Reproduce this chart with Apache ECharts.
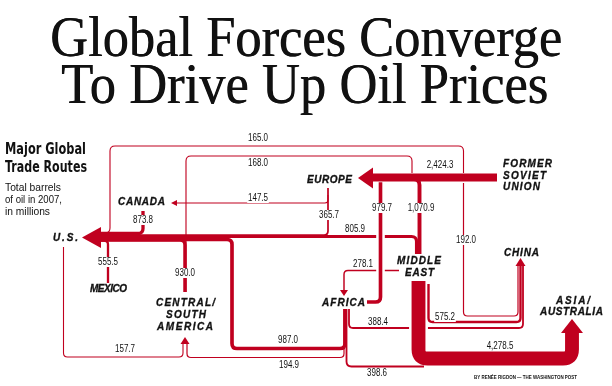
<!DOCTYPE html>
<html><head><meta charset="utf-8">
<script src="https://cdn.jsdelivr.net/npm/echarts@6/dist/echarts.min.js"></script>
<style>html,body{margin:0;padding:0;background:#fff}#c{width:612px;height:386px}</style>
</head><body><div id="c"></div>
<script>
// ---------------- DATA ----------------
const regions = ['U.S.', 'CANADA', 'MEXICO', 'CENTRAL/\nSOUTH\nAMERICA', 'EUROPE',
  'FORMER\nSOVIET\nUNION', 'MIDDLE\nEAST', 'AFRICA', 'CHINA', 'ASIA/\nAUSTRALIA'];
// flows (millions of barrels, 2007)
const flowFrom = ['FORMER SOVIET UNION', 'MIDDLE EAST', 'AFRICA', 'MIDDLE EAST', 'EUROPE',
  'EUROPE', 'CANADA', 'MEXICO', 'CENTRAL/SOUTH AMERICA', 'AFRICA',
  'FORMER SOVIET UNION', 'FORMER SOVIET UNION', 'U.S.', 'AFRICA', 'MIDDLE EAST',
  'FORMER SOVIET UNION', 'MIDDLE EAST', 'AFRICA', 'MIDDLE EAST', 'AFRICA'];
const flowTo = ['EUROPE', 'EUROPE', 'EUROPE', 'U.S.', 'U.S.',
  'CANADA', 'U.S.', 'U.S.', 'U.S.', 'U.S.',
  'U.S.', 'CENTRAL/SOUTH AMERICA', 'CENTRAL/SOUTH AMERICA', 'CENTRAL/SOUTH AMERICA', 'AFRICA',
  'CHINA', 'CHINA', 'CHINA', 'ASIA/AUSTRALIA', 'ASIA/AUSTRALIA'];
const flowVolume = [2424.3, 1070.9, 979.7, 805.9, 365.7,
  147.5, 873.8, 555.5, 930.0, 987.0,
  165.0, 168.0, 157.7, 194.9, 278.1,
  192.0, 575.2, 388.4, 4278.5, 398.6];

// ---------------- LAYOUT (routes, label spots; not data) ----------------
const RED = '#c0001f';
const routes = {
  0: {pts: [[497,177.5],[372,177.5]], r: 0, lab: [440,165], arrow: [[358,178],[373,167.5],[373,188.5]]},
  1: {pts: [[419.5,254],[419.5,179],[380,179]], r: 6, lab: [421,208]},
  2: {pts: [[367,302],[380.5,302],[380.5,182.2]], r: 5, lab: [382,208], halo: true},
  3: {pts: [[416.5,254],[416.5,236.5],[99,236.5]], r: 5, lab: [355,229], arrow: [[82,237.5],[101,227],[101,248]]},
  4: {pts: [[328,188],[328,235],[99,235]], r: 4, lab: [329,215]},
  5: {pts: [[328,195],[328,203],[177,203]], r: 3, lab: [258,198], arrow: [[171,203],[177,200],[177,206]]},
  6: {pts: [[143,211],[143,233.5],[99,233.5]], r: 5, lab: [143,220]},
  7: {pts: [[108,283],[108,240.5],[99,240.5]], r: 4, lab: [108,262]},
  8: {pts: [[185,292],[185,240],[99,240]], r: 5, lab: [185,273]},
  9: {pts: [[345,309],[345,348.5],[232,348.5],[232,239.5],[99,239.5]], r: 5, lab: [288,340]},
  10: {pts: [[463.5,173],[463.5,146],[110,146],[110,233],[99,233]], r: 5, lab: [258,138]},
  11: {pts: [[412,173],[412,156],[186,156],[186,292]], r: 5, lab: [258,163]},
  12: {pts: [[63.5,247],[63.5,357],[183,357],[183,344]], r: 4, lab: [125,349]},
  13: {pts: [[344,309],[344,357.5],[187,357.5],[187,344]], r: 4, lab: [289,365], arrow: [[185,337],[180.5,344],[189.5,344]]},
  14: {pts: [[399,270.5],[344,270.5],[344,290]], r: 4, lab: [363,264], arrow: [[344,296],[340,290],[348,290]]},
  15: {pts: [[463.5,183],[463.5,316],[518,316],[518,266]], r: 4, lab: [466,240]},
  16: {pts: [[428.5,284],[428.5,322],[520.5,322],[520.5,266]], r: 4, lab: [445,317], arrow: [[520.5,258],[515.5,266],[525.5,266]]},
  17: {pts: [[349,309],[349,328],[523,328],[523,266]], r: 4, lab: [378,322]},
  18: {pts: [[418.5,281],[418.5,358.5],[572,358.5],[572,333]], r: 9, lab: [500,346], halo: true, arrow: [[572,319],[561,333],[583,333]]},
  19: {pts: [[346.5,309],[346.5,366.5],[424,366.5]], r: 5, lab: [377,373]}
};
const drawOrder = [10, 11, 12, 13, 15, 17, 14, 5, 4, 3, 6, 7, 8, 9, 1, 0, 2, 18, 16, 19];
const regionLines = [
  [{l:53,r:78,y:238}],
  [{l:118,r:165,y:202}],
  [{l:90,r:127,y:289}],
  [{l:156,r:215,y:303},{l:166,r:206,y:315},{l:157,r:213,y:327}],
  [{l:307,r:352,y:180}],
  [{l:503,r:552,y:164},{l:503,r:546,y:176},{l:503,r:540,y:187}],
  [{l:397,r:441,y:261},{l:405,r:434,y:273}],
  [{l:322,r:365,y:303}],
  [{l:504,r:539,y:253}],
  [{l:556,r:590,y:301},{l:540,r:603,y:312}]
];

// ---------------- helpers ----------------
const mctx = document.createElement('canvas').getContext('2d');
function fontStr(f) { return (f.fontStyle || 'normal') + ' ' + (f.fontWeight || 'normal') + ' ' + f.fontSize + 'px ' + f.fontFamily; }
function tw(text, f) { mctx.font = fontStr(f); return mctx.measureText(text).width; }
function lineWidth(v) { return 0.6 + 0.0031 * v; }
function fmt(v) { return v.toLocaleString('en-US', {minimumFractionDigits: 1, maximumFractionDigits: 1}); }
function roundPath(pts, r) {
  let d = 'M' + pts[0][0] + ' ' + pts[0][1];
  for (let i = 1; i < pts.length - 1; i++) {
    const [x0, y0] = pts[i - 1], [x1, y1] = pts[i], [x2, y2] = pts[i + 1];
    const l1 = Math.hypot(x1 - x0, y1 - y0), l2 = Math.hypot(x2 - x1, y2 - y1);
    const rr = Math.min(r, l1 / 2, l2 / 2);
    const ax = x1 + (x0 - x1) / l1 * rr, ay = y1 + (y0 - y1) / l1 * rr;
    const bx = x1 + (x2 - x1) / l2 * rr, by = y1 + (y2 - y1) / l2 * rr;
    d += ' L' + ax + ' ' + ay + ' Q' + x1 + ' ' + y1 + ' ' + bx + ' ' + by;
  }
  const p = pts[pts.length - 1];
  d += ' L' + p[0] + ' ' + p[1];
  return d;
}
function fitText(text, f, left, right, cy) {
  const w = tw(text, f);
  const st = Object.assign({text: text, fill: '#111', align: 'left', verticalAlign: 'middle'}, f);
  return {type: 'text', x: left, y: cy, scaleX: (right - left) / w, z: 10, style: st};
}

function renderFlow(params, api) {
  const i = api.value(0);
  const L = routes[i];
  const w = lineWidth(flowVolume[i]);
  const pts = L.pts.map(p => api.coord(p));
  const d = roundPath(pts, L.r);
  const ch = [];
  if (L.halo) ch.push({type: 'path', shape: {pathData: d},
    style: {fill: 'none', stroke: '#fff', lineWidth: w + 5, lineCap: 'butt', lineJoin: 'round'}});
  ch.push({type: 'path', shape: {pathData: d},
    style: {fill: 'none', stroke: RED, lineWidth: w, lineCap: 'butt', lineJoin: 'round'}});
  if (L.arrow) ch.push({type: 'polygon', shape: {points: L.arrow.map(p => api.coord(p))}, style: {fill: RED}});
  return {type: 'group', children: ch};
}
const NUMFONT = {fontFamily: '"Liberation Sans", Arial, sans-serif', fontSize: 10};
function renderLabel(params, api) {
  const i = api.value(0);
  const c = api.coord(routes[i].lab);
  return {type: 'text', x: c[0], y: c[1], scaleX: 0.8,
    style: Object.assign({text: fmt(flowVolume[i]), fill: '#111', align: 'center', verticalAlign: 'middle',
      backgroundColor: '#fff', padding: [0, 1], lineHeight: 10}, NUMFONT)};
}
const REGFONT = {fontFamily: '"Liberation Sans", Arial, sans-serif', fontSize: 10, fontWeight: 'bold', fontStyle: 'italic'};
function renderRegion(params, api) {
  const i = api.value(0);
  const lines = regions[i].split('\n');
  const ch = [];
  lines.forEach((txt, k) => {
    const g = regionLines[i][k];
    const a = api.coord([g.l, g.y]), b = api.coord([g.r, g.y]);
    const chars = txt.split('');
    const widths = chars.map(c => tw(c, REGFONT));
    const total = widths.reduce((s, x) => s + x, 0);
    const sp = chars.length > 1 ? ((b[0] - a[0]) - total) / (chars.length - 1) : 0;
    let x = a[0];
    chars.forEach((c, j) => {
      ch.push({type: 'text', x: x, y: a[1],
        style: Object.assign({text: c, fill: '#111', align: 'left', verticalAlign: 'middle',
          stroke: '#111', lineWidth: 0.3}, REGFONT)});
      x += widths[j] + sp;
    });
  });
  return {type: 'group', children: ch};
}

const TITLEFONT = {fontFamily: '"Liberation Serif"', fontSize: 58};
const HEADFONT = {fontFamily: '"DejaVu Sans", sans-serif', fontSize: 15, fontWeight: 'bold'};
const DESCFONT = {fontFamily: '"Liberation Sans", Arial, sans-serif', fontSize: 10.5};
const CREDFONT = {fontFamily: '"Liberation Sans", Arial, sans-serif', fontSize: 6, fontWeight: 'bold'};

const t1 = fitText('Global Forces Converge', TITLEFONT, 50, 562, 41);
const t2 = fitText('To Drive Up Oil Prices', TITLEFONT, 61, 548, 88);
const t1b = fitText('Global Forces Converge', TITLEFONT, 50.6, 562.6, 41);
const t2b = fitText('To Drive Up Oil Prices', TITLEFONT, 61.6, 548.6, 88);

const chart = echarts.init(document.getElementById('c'), null, {renderer: 'canvas'});
chart.setOption({
  animation: false,
  backgroundColor: '#fff',
  grid: {left: 0, right: 0, top: 0, bottom: 0},
  xAxis: {type: 'value', min: 0, max: 612, show: false},
  yAxis: {type: 'value', min: 0, max: 386, inverse: true, show: false},
  graphic: [
    t1, t2, t1b, t2b,
    fitText('Major Global', HEADFONT, 5, 86, 150),
    fitText('Trade Routes', HEADFONT, 5, 87, 168),
    fitText('Total barrels', DESCFONT, 5, 61, 188),
    fitText('of oil in 2007,', DESCFONT, 5, 62, 200),
    fitText('in millions', DESCFONT, 5, 50, 212.5),
    fitText('BY RENÉE RIGDON — THE WASHINGTON POST', CREDFONT, 474, 577, 377)
  ],
  series: [
    {type: 'custom', coordinateSystem: 'cartesian2d', renderItem: renderFlow, clip: false, silent: true, z: 2,
      data: drawOrder.map(i => [i, 0]), encode: {x: 0, y: 1}},
    {type: 'custom', coordinateSystem: 'cartesian2d', renderItem: renderLabel, clip: false, silent: true, z: 3,
      data: drawOrder.map(i => [i, 0]), encode: {x: 0, y: 1}},
    {type: 'custom', coordinateSystem: 'cartesian2d', renderItem: renderRegion, clip: false, silent: true, z: 3,
      data: regions.map((_, i) => [i, 0]), encode: {x: 0, y: 1}}
  ]
});
</script></body></html>
